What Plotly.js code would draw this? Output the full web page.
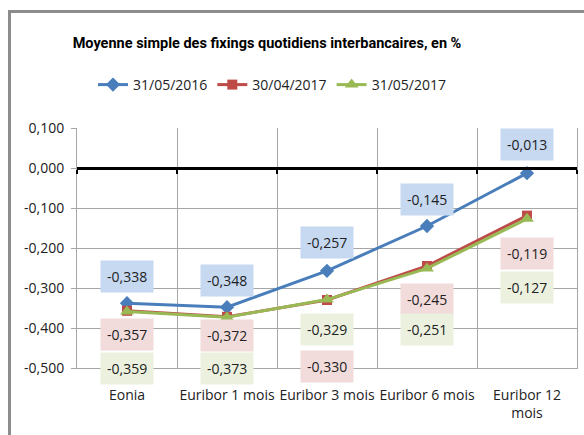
<!DOCTYPE html>
<html>
<head>
<meta charset="utf-8">
<script src="https://cdn.plot.ly/plotly-3.0.1.min.js"></script>
<style>
  html, body { margin: 0; padding: 0; background: #fff; }
  #wrap { position: relative; width: 584px; height: 435px; }
  #chart { width: 584px; height: 435px; }
  #frame { position: absolute; left: 8px; top: 10px; width: 600px; height: 450px;
           border-left: 3px solid #8c8c8c; border-top: 3px solid #8c8c8c; pointer-events: none; }
</style>
</head>
<body>
<div id="wrap"><div id="chart"></div><div id="frame"></div></div>
<script>
// ---- data ----
const categories = ["Eonia", "Euribor 1 mois", "Euribor 3 mois", "Euribor 6 mois", "Euribor 12<br>mois"];
const seriesNames = ["31/05/2016", "30/04/2017", "31/05/2017"];
const values2016 = [-0.338, -0.348, -0.257, -0.145, -0.013];
const valuesApr2017 = [-0.357, -0.372, -0.330, -0.245, -0.119];
const valuesMay2017 = [-0.359, -0.373, -0.329, -0.251, -0.127];
const yTickVals = [0.1, 0.0, -0.1, -0.2, -0.3, -0.4, -0.5];
const chartTitle = "Moyenne simple des fixings quotidiens interbancaires, en %";

// ---- styling ----
const FONT = "Open Sans";
const colors = ["#4a7ebb", "#be4b48", "#98b954"];
const labelBg = ["#c6d9f1", "#f2dcdb", "#ebf1de"];
const symbols = ["diamond", "square", "triangle-up"];
const markerSizes = [11, 10, 12];
// label offsets (pixels) relative to each point
const labelShift = [
  [27, 27, 28, 27, 29],
  [-24, -19, -66, -33, -38],
  [-57, -51, -30, -61, -69]
];

const fmt = v => (v < 0 ? "-" : "") + Math.abs(v).toFixed(3).replace(".", ",");
const xIdx = categories.map((_, i) => i);
const allSeries = [values2016, valuesApr2017, valuesMay2017];

const traces = allSeries.map((vals, s) => ({
  type: "scatter", mode: "lines+markers",
  name: seriesNames[s],
  x: xIdx, y: vals,
  line: { color: colors[s], width: 3 },
  marker: { color: colors[s], symbol: symbols[s], size: markerSizes[s] },
  hoverinfo: "skip"
}));
// helper trace for the boundary axis (gridlines + zero axis line)
traces.push({ type: "scatter", x: [], y: [], xaxis: "x2", yaxis: "y", showlegend: false, hoverinfo: "skip" });

const annotations = [];
allSeries.forEach((vals, s) => {
  vals.forEach((v, i) => {
    annotations.push({
      x: xIdx[i], y: v, xref: "x", yref: "y",
      text: fmt(v), showarrow: false,
      yshift: labelShift[s][i],
      bgcolor: labelBg[s], borderpad: 6,
      font: { family: FONT, size: 14, color: "#222" }
    });
  });
});

const boundaries = [];
for (let i = 0; i <= categories.length; i++) boundaries.push(i - 0.5);

const yMin = -0.5, yMax = 0.1;

const layout = {
  width: 584, height: 435,
  margin: { l: 77, r: 7, t: 128, b: 67 },
  paper_bgcolor: "#fff", plot_bgcolor: "#fff",
  font: { family: FONT, size: 14, color: "#222" },
  title: {
    text: chartTitle,
    font: { family: "Roboto", size: 14.5, color: "#000", weight: "bold" },
    x: 267 / 584, xanchor: "center", xref: "container",
    y: 1 - 43 / 435, yanchor: "middle", yref: "container"
  },
  showlegend: true,
  legend: {
    orientation: "h", x: (272 - 77) / 500, xanchor: "center",
    y: (368 - 85) / 240, yanchor: "middle",
    font: { family: FONT, size: 14, color: "#222" },
    itemwidth: 30, traceorder: "normal", bgcolor: "rgba(0,0,0,0)"
  },
  xaxis: {
    range: [-0.5, categories.length - 0.5],
    tickvals: xIdx, ticktext: categories,
    showgrid: false, zeroline: false, ticks: "",
    showline: true, linecolor: "#a6a6a6", linewidth: 1,
    ticklabelstandoff: 14,
    tickfont: { family: FONT, size: 14, color: "#222" },
    fixedrange: true
  },
  xaxis2: {
    overlaying: "x", anchor: "free",
    position: (0 - yMin) / (yMax - yMin),
    range: [-0.5, categories.length - 0.5],
    tickvals: boundaries, showticklabels: false,
    showgrid: true, gridcolor: "#a6a6a6", gridwidth: 1,
    ticks: "outside", ticklen: 4, tickwidth: 2, tickcolor: "#000",
    showline: true, linecolor: "#000", linewidth: 3,
    zeroline: false, fixedrange: true
  },
  yaxis: {
    range: [yMin, yMax],
    tickvals: yTickVals, ticktext: yTickVals.map(fmt),
    showgrid: true, gridcolor: "#a6a6a6", gridwidth: 1,
    zeroline: false,
    showline: true, linecolor: "#a6a6a6", linewidth: 1, mirror: true,
    ticks: "outside", ticklen: 5, tickcolor: "#a6a6a6",
    ticklabelstandoff: 4,
    tickfont: { family: FONT, size: 14, color: "#222" },
    fixedrange: true
  },
  annotations: annotations
};

Plotly.newPlot("chart", traces, layout, { staticPlot: true, displayModeBar: false });
</script>
</body>
</html>
